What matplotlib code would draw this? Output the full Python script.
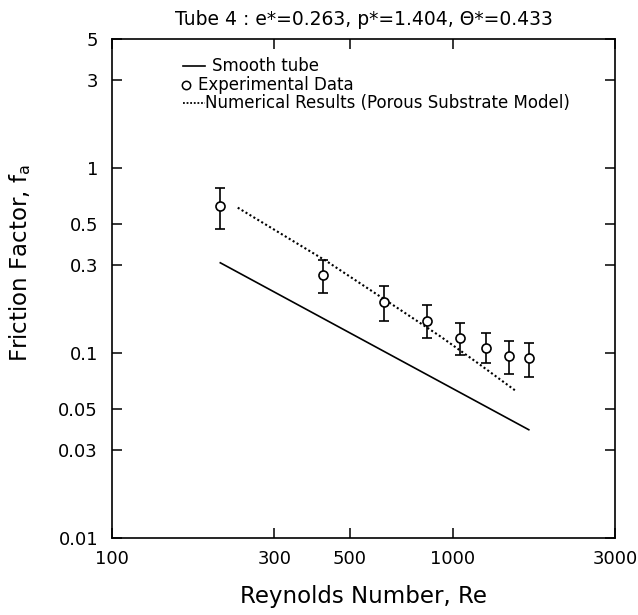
import matplotlib
matplotlib.use("Agg")
import matplotlib.pyplot as plt
from matplotlib.ticker import FixedLocator, NullLocator, FixedFormatter

# ---- data ----
smooth_re = [208, 1675]
smooth_f = [0.308, 0.0385]

exp_re = [208, 417, 628, 843, 1050, 1256, 1465, 1676]
exp_f = [0.625, 0.264, 0.190, 0.150, 0.121, 0.107, 0.097, 0.094]
exp_hi = [0.785, 0.319, 0.232, 0.181, 0.146, 0.128, 0.117, 0.114]
exp_lo = [0.472, 0.211, 0.150, 0.120, 0.098, 0.088, 0.077, 0.074]

num_re = [234, 428, 640, 922, 1200, 1524]
num_f = [0.612, 0.313, 0.192, 0.123, 0.087, 0.063]

xticks = [100, 300, 500, 1000, 3000]
xticklabels = ["100", "300", "500", "1000", "3000"]
yticks = [0.01, 0.03, 0.05, 0.1, 0.3, 0.5, 1, 3, 5]
yticklabels = ["0.01", "0.03", "0.05", "0.1", "0.3", "0.5", "1", "3", "5"]

title = "Tube 4 : e*=0.263, p*=1.404, \u0398*=0.433"

plt.rcParams['font.family'] = ['DejaVu Sans']

fig = plt.figure(figsize=(6.38, 6.15), dpi=100)
ax = fig.add_axes([112/638, 1 - 538/615, 503/638, 499/615])
ax.set_xscale('log')
ax.set_yscale('log')
ax.set_xlim(100, 3000)
ax.set_ylim(0.01, 5)

ax.plot(smooth_re, smooth_f, color='black', lw=1.2)
ax.plot(num_re, num_f, color='black', lw=1.5, linestyle=(0, (1, 1.2)))
yerr = [[f - lo for f, lo in zip(exp_f, exp_lo)], [hi - f for f, hi in zip(exp_f, exp_hi)]]
ax.errorbar(exp_re, exp_f, yerr=yerr, fmt='o', mfc='white', mec='black', ms=6.5,
            mew=1.2, ecolor='black', elinewidth=1.2, capsize=3.3, capthick=1.2, zorder=3)

for a in (ax.xaxis, ax.yaxis):
    a.set_minor_locator(NullLocator())
ax.xaxis.set_major_locator(FixedLocator(xticks))
ax.xaxis.set_major_formatter(FixedFormatter(xticklabels))
ax.yaxis.set_major_locator(FixedLocator(yticks))
ax.yaxis.set_major_formatter(FixedFormatter(yticklabels))
ax.tick_params(which='both', direction='in', top=True, right=True, length=7, width=1.1,
               labelsize=13)
ax.tick_params(axis='x', pad=9)
ax.tick_params(axis='y', pad=10)
for s in ax.spines.values():
    s.set_linewidth(1.2)

ax.set_title(title, fontsize=13.5, pad=10)
ax.set_xlabel("Reynolds Number, Re", fontsize=16.5)
ax.set_ylabel("Friction Factor, f$_{\\mathregular{a}}$", fontsize=16.5)
ax.xaxis.set_label_coords(0.5, -0.094)
ax.yaxis.set_label_coords(-0.157, 0.551)

# legend (manual)
T = ax.transAxes
ax.plot([0.141, 0.185], [0.946, 0.946], color='black', lw=1.2, transform=T)
ax.text(0.199, 0.946, "Smooth tube", transform=T, va='center', ha='left', fontsize=12)
ax.plot([0.147], [0.908], 'o', mfc='white', mec='black', ms=6, mew=1.1, transform=T)
ax.text(0.171, 0.908, "Experimental Data", transform=T, va='center', ha='left', fontsize=12)
ax.plot([0.141, 0.185], [0.871, 0.871], color='black', lw=1.3, linestyle=(0, (1, 1.0)), transform=T)
ax.text(0.185, 0.871, "Numerical Results (Porous Substrate Model)", transform=T,
        va='center', ha='left', fontsize=12)

fig.savefig("out.png", dpi=100)
